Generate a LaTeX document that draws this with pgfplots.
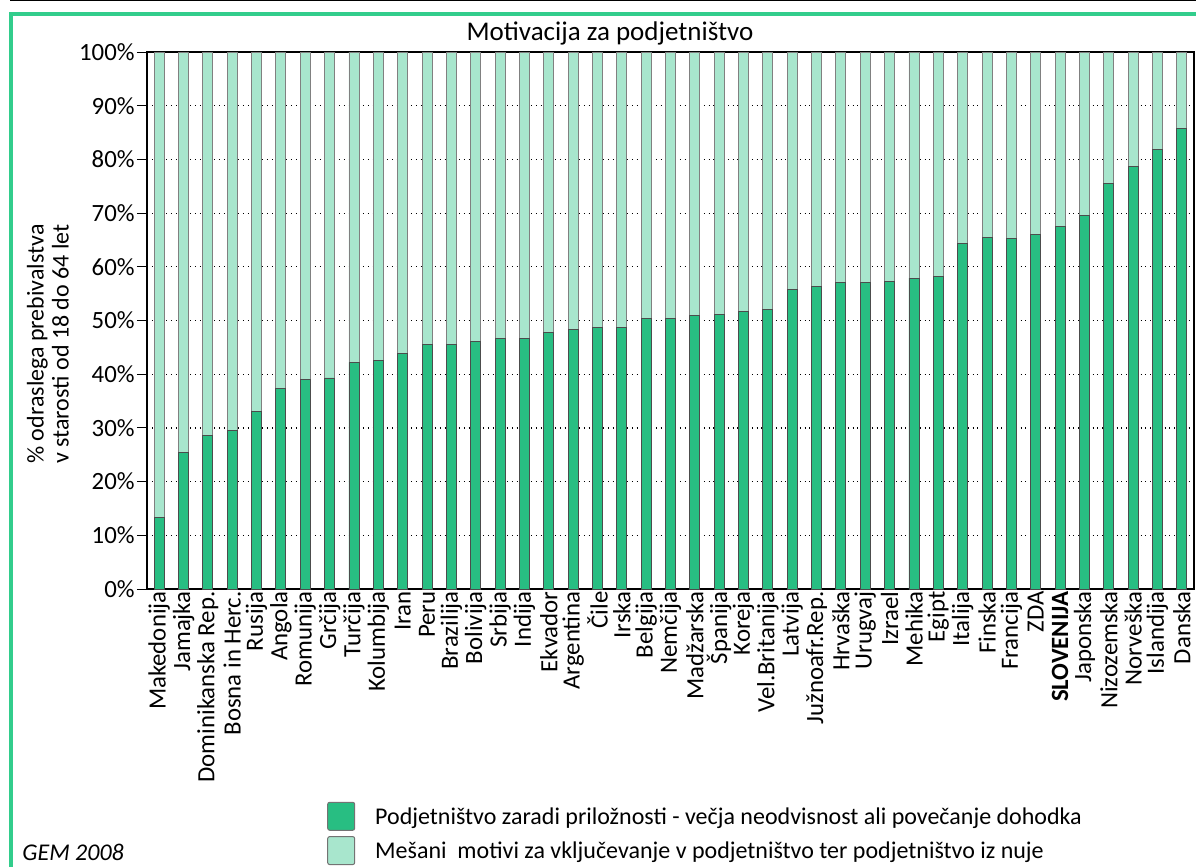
\documentclass[border=0pt]{standalone}
\usepackage{fontspec}
\setmainfont{Carlito}
\usepackage{pgfplots}
\pgfplotsset{compat=1.18}
\usepackage{pgfplotstable}
\definecolor{dgreen}{RGB}{40,190,130}
\definecolor{lgreen}{RGB}{168,230,205}
\definecolor{frame}{RGB}{50,205,140}
\pgfplotstableread{
x opp mix
0 13.3 86.7
1 25.4 74.6
2 28.6 71.4
3 29.6 70.4
4 33.0 67.0
5 37.4 62.6
6 39.0 61.0
7 39.3 60.7
8 42.2 57.8
9 42.6 57.4
10 43.8 56.2
11 45.5 54.5
12 45.5 54.5
13 46.1 53.9
14 46.6 53.4
15 46.6 53.4
16 47.8 52.2
17 48.3 51.7
18 48.7 51.3
19 48.7 51.3
20 50.4 49.6
21 50.4 49.6
22 50.9 49.1
23 51.1 48.9
24 51.6 48.4
25 52.0 48.0
26 55.7 44.3
27 56.4 43.6
28 57.0 43.0
29 57.0 43.0
30 57.3 42.7
31 57.9 42.1
32 58.2 41.8
33 64.4 35.6
34 65.4 34.6
35 65.3 34.7
36 66.1 33.9
37 67.5 32.5
38 69.6 30.4
39 75.6 24.4
40 78.6 21.4
41 81.9 18.1
42 85.8 14.2
}\datatable
\begin{document}
\begin{tikzpicture}
\begin{scope}
\clip (0,0) rectangle (598pt,-433.5pt);
\draw[black, line width=0.6pt] (5pt,-0.3pt) -- (598pt,-0.3pt);
\draw[frame, line width=1.6pt] (5.5pt,-460pt) -- (5.5pt,-7pt) -- (620pt,-7pt);
\begin{axis}[
  at={(73.5pt,-294.5pt)}, anchor=south west,
  scale only axis, width=523.5pt, height=268.5pt,
  ybar stacked, bar width=5pt,
  xmin=-0.5, xmax=42.5, ymin=0, ymax=100,
  axis line style={black, line width=0.6pt},
  xtick={0,...,42}, major x tick style={draw=none},
  xticklabels={Makedonija,Jamajka,Dominikanska Rep.,Bosna in Herc.,Rusija,Angola,Romunija,Grčija,Turčija,Kolumbija,Iran,Peru,Brazilija,Bolivija,Srbija,Indija,Ekvador,Argentina,Čile,Irska,Belgija,Nemčija,Madžarska,Španija,Koreja,Vel.Britanija,Latvija,Južnoafr.Rep.,Hrvaška,Urugvaj,Izrael,Mehika,Egipt,Italija,Finska,Francija,ZDA,\textbf{SLOVENIJA},Japonska,Nizozemska,Norveška,Islandija,Danska},
  xticklabel style={rotate=90, anchor=east, font=\fontsize{12.4}{14}\selectfont, inner sep=1pt},
  xtick pos=bottom, ytick pos=left,
  extra x ticks={-0.5,0.5,...,42.5}, extra x tick labels={},
  extra x tick style={tick align=outside, major tick length=4.5pt, tick style={black, line width=0.5pt}, grid=none},
  ytick={0,10,...,100},
  yticklabels={0\%,10\%,20\%,30\%,40\%,50\%,60\%,70\%,80\%,90\%,100\%},
  yticklabel style={font=\fontsize{12.4}{14}\selectfont, inner sep=1pt},
  ytick align=outside, major tick length=5pt,
  tick style={black, line width=0.5pt},
  ymajorgrids, major grid style={black, dotted, line width=0.6pt},
  legend style={at={(0.166,-0.388)}, anchor=north west, draw=none, fill=none,
    font=\fontsize{12}{14}\selectfont, row sep=2.5pt, column sep=0pt,
    /tikz/every even column/.append style={column sep=0pt}},
  legend cell align=left,
  legend image code/.code={\draw[#1, draw=black!55, line width=0.5pt, rounded corners=1pt] (0pt,-6.5pt) rectangle (13.5pt,7.5pt);},
]
\addplot[fill=dgreen, draw=black!70, line width=0.45pt] table[x=x,y=opp] {\datatable};
\addplot[fill=lgreen, draw=black!50, line width=0.45pt] table[x=x,y=mix] {\datatable};
\legend{\hspace{8pt}Podjetništvo zaradi priložnosti - večja neodvisnost ali povečanje dohodka,\hspace{8pt}Mešani\ \ motivi za vključevanje v podjetništvo ter podjetništvo iz nuje}
\end{axis}
\node[font=\fontsize{13.5}{16}\selectfont] at (305pt,-16.5pt) {Motivacija za podjetništvo};
\node[rotate=90, align=center, font=\fontsize{12}{12.5}\selectfont] at (24pt,-172pt) {\% odraslega prebivalstva\\v starosti od 18 do 64 let};
\node[anchor=base west, font=\fontsize{12}{14}\selectfont\itshape, inner sep=0pt] at (11pt,-430pt) {GEM 2008};
\end{scope}
\pgfresetboundingbox
\useasboundingbox (0,0) rectangle (598pt,-433.5pt);
\end{tikzpicture}
\end{document}
